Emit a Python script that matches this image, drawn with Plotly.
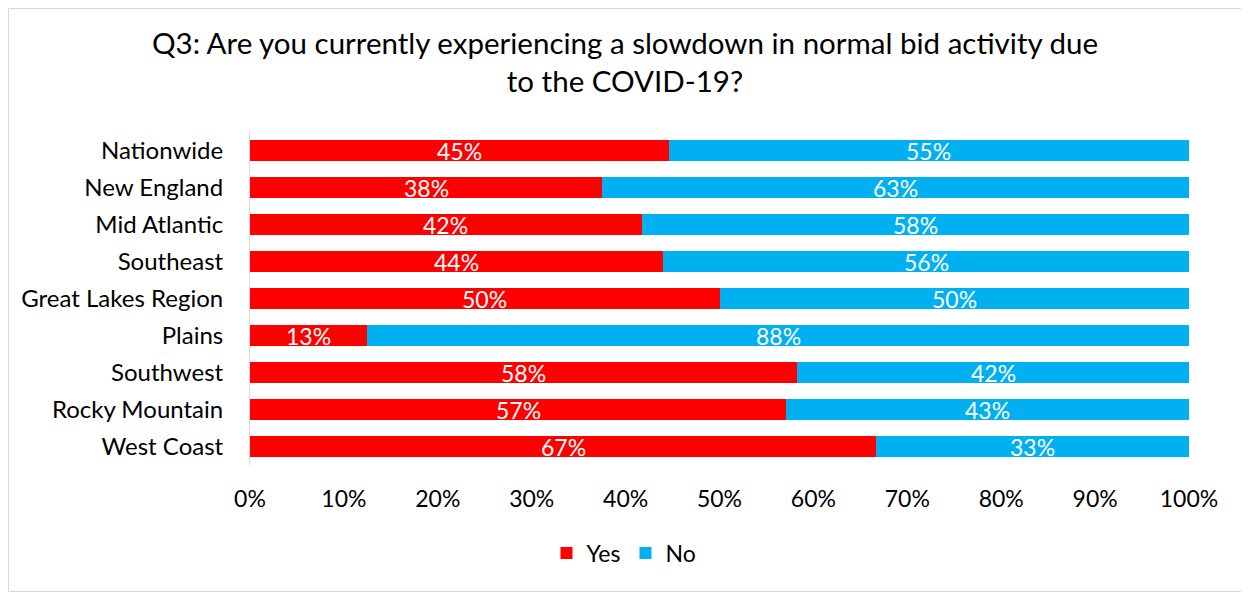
import plotly.graph_objects as go

categories = ["Nationwide", "New England", "Mid Atlantic", "Southeast", "Great Lakes Region",
              "Plains", "Southwest", "Rocky Mountain", "West Coast"]
yes_vals = [44.6, 37.5, 41.7, 44.0, 50.0, 12.5, 58.3, 57.1, 66.7]
no_vals = [55.4, 62.5, 58.3, 56.0, 50.0, 87.5, 41.7, 42.9, 33.3]
tick_vals = [0, 10, 20, 30, 40, 50, 60, 70, 80, 90, 100]
tick_text = [f"{v}%" for v in tick_vals]

def lab(v):
    return f"{int(v + 0.5)}%"

FONT = "Lato, Calibri, sans-serif"
OFF = 8  # page body margin
W, H = 1241, 584
ML, MR, MT, MB = 250 - OFF, 60, 132 - OFF, 127
PW, PH = W - ML - MR, H - MT - MB

fig = go.Figure()
fig.add_trace(go.Bar(y=categories, x=yes_vals, name="Yes", orientation="h",
                     marker=dict(color="#FF0000", line=dict(width=0)), textposition="none"))
fig.add_trace(go.Bar(y=categories, x=no_vals, name="No", orientation="h",
                     marker=dict(color="#00B0F0", line=dict(width=0)), textposition="none"))

annotations = []
for c, y, n in zip(categories, yes_vals, no_vals):
    annotations.append(dict(x=y / 2, y=c, xref="x", yref="y", text=lab(y), showarrow=False,
                            font=dict(color="white", size=23, family=FONT)))
    annotations.append(dict(x=y + n / 2, y=c, xref="x", yref="y", text=lab(n), showarrow=False,
                            font=dict(color="white", size=23, family=FONT)))

def px_x(p):
    return (p - OFF - ML) / PW

def px_y(p):
    return (H - MB - (p - OFF)) / PH

fig.update_layout(
    width=W, height=H,
    barmode="stack", bargap=0.43,
    margin=dict(l=ML, r=MR, t=MT, b=MB),
    paper_bgcolor="white", plot_bgcolor="white",
    font=dict(family=FONT, size=23, color="#000000"),
    title=dict(text="Q3: Are you currently experiencing a slowdown in normal bid activity due<br>to the COVID-19?",
               x=(625 - OFF) / W, xanchor="center", xref="container",
               y=1 - (54 - OFF) / H, yanchor="middle", yref="container",
               font=dict(size=29.5, family=FONT, color="#000000")),
    showlegend=True,
    legend=dict(orientation="h", x=px_x(624), xanchor="center", y=px_y(553), yanchor="middle",
                font=dict(size=23, family=FONT), traceorder="normal",
                itemwidth=30, tracegroupgap=0),
    xaxis=dict(range=[0, 100], tickvals=tick_vals, ticktext=tick_text, showgrid=False,
               zeroline=False, showline=False, ticks="", ticklabelstandoff=18,
               tickfont=dict(size=23, family=FONT), fixedrange=True),
    yaxis=dict(categoryorder="array", categoryarray=categories, autorange="reversed",
               showgrid=False, zeroline=False, showline=True, linecolor="#D9D9D9", linewidth=1,
               ticks="", ticklabelstandoff=21, tickfont=dict(size=24, family=FONT)),
    annotations=annotations,
    shapes=[dict(type="rect", xref="paper", yref="paper",
                 x0=-ML / PW + 0.5 / PW, x1=(W - ML - 1) / PW, y0=-MB / PH + 0.5 / PH,
                 y1=(H - MB - 0.5) / PH,
                 line=dict(color="#D9D9D9", width=1), fillcolor="rgba(0,0,0,0)", layer="below")],
)

fig.write_html("out.html")
